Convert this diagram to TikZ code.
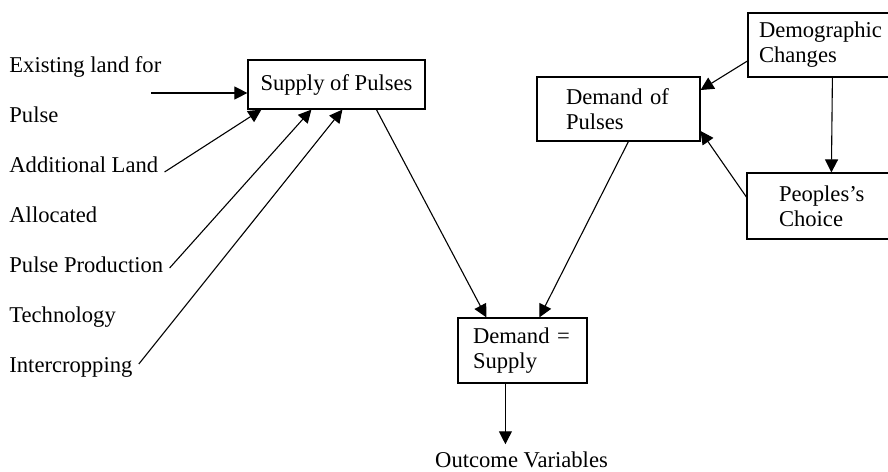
\documentclass[tikz,border=0pt]{standalone}
\usepackage{fontspec}
\setmainfont{Liberation Serif}
\usetikzlibrary{arrows.meta,calc}
\tikzset{
    box/.style={draw, line width=0.6pt, align=left, inner sep=0pt},
    arr/.style={-{Triangle[length=6.5pt,width=6.5pt]}, line width=0.55pt},
}
\begin{document}
\begin{tikzpicture}[x=0.5pt,y=-0.5pt,font=\fontsize{11.3}{12.5}\selectfont]
    \useasboundingbox (0,0) rectangle (888,471);
    \clip (0,0) rectangle (888,471);
    % Inputs
        \foreach \t [count=\i] in {Existing land for,Pulse,Additional Land,Allocated,Pulse Production,Technology,Intercropping}{
            \node[anchor=base west, inner xsep=3pt, inner ysep=0pt] (l\i) at (3,22+50*\i) {\t};
        }
        \coordinate (landtail) at (151,93);
    % Boxes
        \node[box, minimum width=88.5pt, minimum height=24.5pt] (supply) at (336.5,84.5) {Supply of Pulses};
        \node[box, minimum width=81.5pt, minimum height=32pt, text width=52.5pt] (demand) at (618.5,109) {Demand of\\Pulses};
        \node[box, minimum width=75pt, minimum height=32pt, text width=64pt] (demog) at (823,45) {Demographic\\Changes};
        \node[box, minimum width=76pt, minimum height=33pt, text width=44pt] (choice) at (823,206) {Peoples's\\Choice};
        \node[box, minimum width=64.5pt, minimum height=32.5pt, text width=49.5pt] (equil) at (522.5,350.5) {Demand =\\Supply};
        \node[anchor=base] (outcome) at (521.5,467) {Outcome Variables};
    % Links
        \draw[arr] (landtail) -- ($(supply.west)+(0,8.5)$);
        \draw[arr] (l3.base east) -- ($(supply.south west)+(14,0)$);
        \draw[arr] ($(l5.base east)+(0,-4)$) -- ($(supply.south west)+(64,0)$);
        \draw[arr] ($(l7.base east)+(0,-8)$) -- ($(supply.south west)+(95,0)$);
        \draw[arr] ($(supply.south west)+(129,0)$) -- ($(equil.north west)+(29,0)$);
        \draw[arr] ($(demand.south west)+(92,0)$) -- ($(equil.north west)+(82,0)$);
        \draw[arr] ($(demog.west)+(0,16)$) -- ($(demand.east)+(0,-19)$);
        \draw[arr] ($(choice.west)+(0,-9)$) -- ($(demand.east)+(0,22)$);
        \draw[arr] ($(demog.south west)+(85,0)$) -- ($(choice.north west)+(85,0)$);
        \coordinate (eqtail) at ($(equil.south west)+(48,0)$);
        \draw[arr] (eqtail) -- (eqtail |- outcome.north);
\end{tikzpicture}
\end{document}
